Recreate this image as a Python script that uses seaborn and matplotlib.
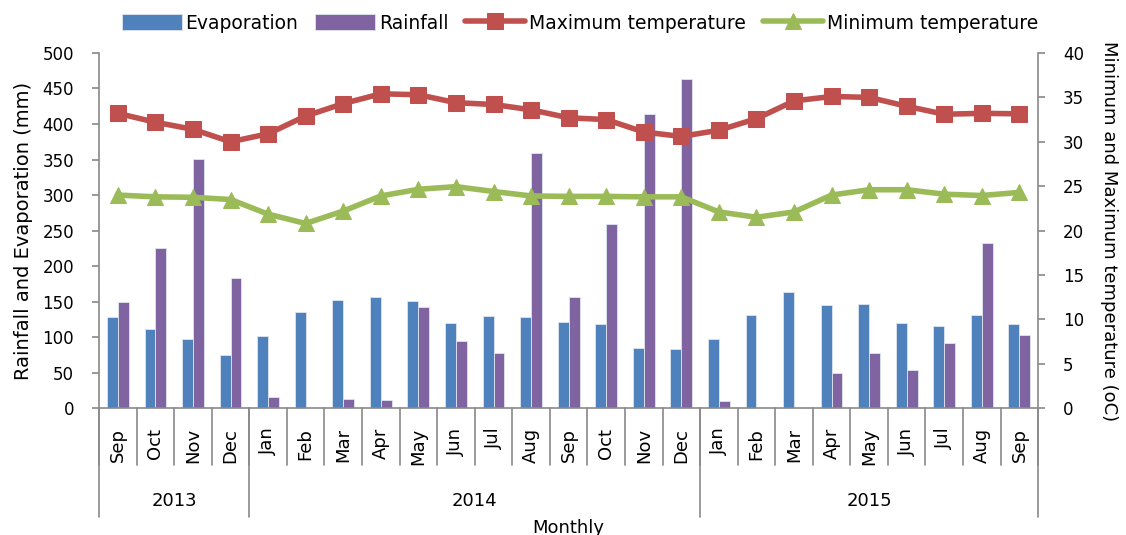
import matplotlib.pyplot as plt
import numpy as np
import pandas as pd
import seaborn as sns
from matplotlib.transforms import blended_transform_factory

# data
months = ["Sep", "Oct", "Nov", "Dec",
          "Jan", "Feb", "Mar", "Apr", "May", "Jun", "Jul", "Aug", "Sep", "Oct", "Nov", "Dec",
          "Jan", "Feb", "Mar", "Apr", "May", "Jun", "Jul", "Aug", "Sep"]
years = ["2013", "2014", "2015"]
year_counts = [4, 12, 9]

evaporation = [128, 112, 98, 75,
               102, 135, 152, 157, 151, 120, 130, 129, 121, 118, 85, 83,
               97, 131, 163, 145, 147, 120, 115, 131, 119]
rainfall = [150, 225, 351, 183,
            16, 0, 13, 12, 143, 94, 78, 359, 156, 259, 414, 464,
            10, 0, 0, 50, 77, 54, 92, 232, 103]
max_temp = [33.2, 32.2, 31.4, 30.0,
            30.9, 32.9, 34.3, 35.4, 35.3, 34.4, 34.2, 33.6, 32.7, 32.5, 31.1, 30.6,
            31.3, 32.6, 34.6, 35.1, 35.0, 34.0, 33.1, 33.2, 33.15]
min_temp = [24.0, 23.8, 23.75, 23.5,
            21.85, 20.8, 22.2, 23.9, 24.65, 24.95, 24.4, 23.9, 23.85, 23.85, 23.8, 23.8,
            22.1, 21.5, 22.1, 24.0, 24.6, 24.6, 24.1, 23.95, 24.3]

BLUE = "#4F81BD"
PURPLE = "#8064A2"
RED = "#C0504D"
GREEN = "#9BBB59"
GREY = "#898989"

sns.set_theme(style="white")
plt.rcParams["font.family"] = ["DejaVu Sans"]
plt.rcParams["text.color"] = "black"
plt.rcParams["axes.labelcolor"] = "black"

fig, ax = plt.subplots(figsize=(11.26, 5.35), dpi=100)
fig.subplots_adjust(left=0.088, right=0.922, top=0.901, bottom=0.237)

pos = np.arange(len(months))
df = pd.DataFrame({
    "pos": np.concatenate([pos, pos]),
    "value": evaporation + rainfall,
    "series": ["Evaporation"] * len(pos) + ["Rainfall"] * len(pos),
})
sns.barplot(data=df, x="pos", y="value", hue="series", palette=[BLUE, PURPLE],
            saturation=1, width=0.58, gap=0, edgecolor="#dfe6f0", linewidth=0.6, ax=ax)
bar_handles, bar_labels = ax.get_legend_handles_labels()
ax.get_legend().remove()

ax2 = ax.twinx()
sns.lineplot(x=pos, y=max_temp, color=RED, linewidth=4, marker="s", markersize=11,
             markeredgecolor=RED, label="Maximum temperature", ax=ax2)
sns.lineplot(x=pos, y=min_temp, color=GREEN, linewidth=4, marker="^", markersize=12,
             markeredgecolor=GREEN, label="Minimum temperature", ax=ax2)
line_handles, line_labels = ax2.get_legend_handles_labels()
ax2.get_legend().remove()

ax.set_xlim(-0.5, len(months) - 0.5)
ax.set_ylim(0, 500)
ax.set_yticks(range(0, 501, 50))
ax2.set_ylim(0, 40)
ax2.set_yticks(range(0, 41, 5))

ax.set_xticks(pos)
ax.set_xticklabels(months, rotation=90, fontsize=13)
ax.tick_params(axis="x", length=0, pad=14, labelcolor="black")
ax.tick_params(axis="y", direction="out", length=5, width=1.2, color=GREY, pad=13,
               labelsize=12, labelcolor="black", left=True)
ax2.tick_params(axis="y", direction="out", length=5, width=1.2, color=GREY, pad=13,
                labelsize=12, labelcolor="black", right=True)

ax.set_xlabel("")
ax.set_ylabel("Rainfall and Evaporation (mm)", fontsize=14, labelpad=7)
ax2.set_ylabel("Minimum and Maximum temperature (oC)", fontsize=13, rotation=270,
               labelpad=24)

for a in (ax, ax2):
    a.spines["top"].set_visible(False)
    for s in ("left", "right", "bottom"):
        a.spines[s].set_color(GREY)
        a.spines[s].set_linewidth(1.2)
ax.spines["right"].set_visible(False)
ax2.spines["left"].set_visible(False)
ax2.spines["bottom"].set_visible(False)

# two-level category axis: month separators and year groups
trans = blended_transform_factory(ax.transData, ax.transAxes)
for b in np.arange(len(months) + 1) - 0.5:
    ax.plot([b, b], [0, -0.16], color=GREY, lw=1.2, transform=trans, clip_on=False)

edges = np.concatenate([[0], np.cumsum(year_counts)]) - 0.5
for b in edges:
    ax.plot([b, b], [0, -0.307], color=GREY, lw=1.2, transform=trans, clip_on=False)
for yr, lo, hi in zip(years, edges[:-1], edges[1:]):
    ax.text((lo + hi) / 2, -0.26, yr, transform=trans, ha="center", va="center",
            fontsize=13)
ax.text(0.5, -0.337, "Monthly", transform=ax.transAxes, ha="center", va="center",
        fontsize=13)

fig.legend(bar_handles + line_handles, bar_labels + line_labels, loc="center",
           bbox_to_anchor=(0.515, 0.957), ncol=4, frameon=False, fontsize=13.5,
           handlelength=3.2, handleheight=1.0, handletextpad=0.2, columnspacing=0.9)

fig.savefig("out.png", dpi=100)
